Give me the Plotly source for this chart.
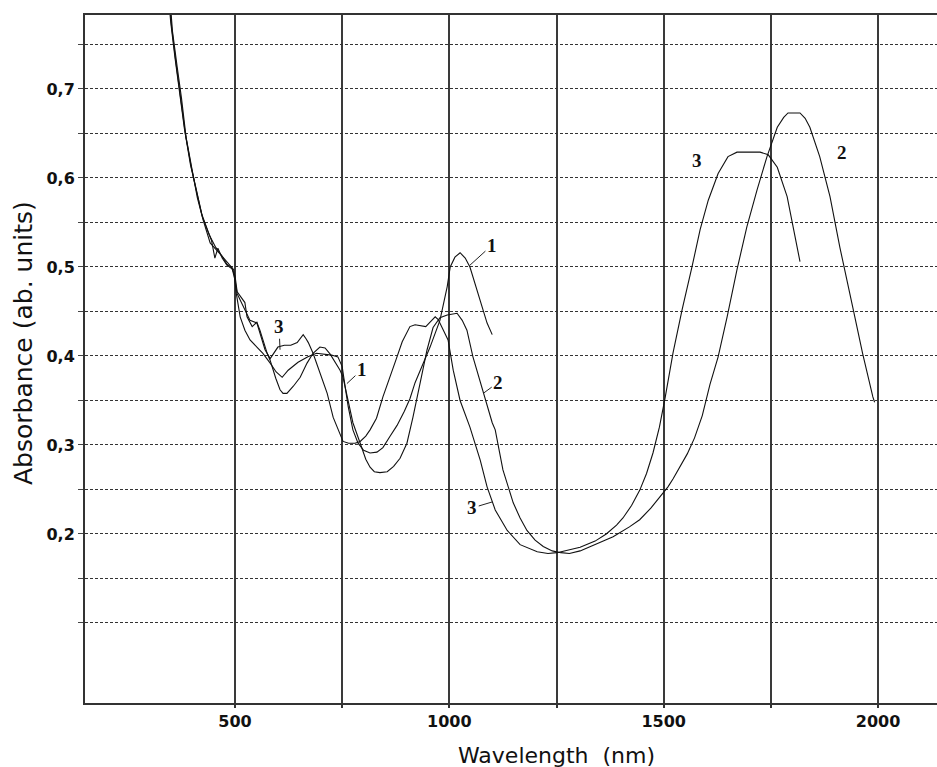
import plotly.graph_objects as go

# ---------------- data ----------------
wl1 = [340, 352, 362, 372, 384, 398, 410, 424, 440, 455, 470, 485, 497, 503, 512, 523, 535, 551, 565,
       582, 596, 610, 624, 647, 670, 690, 710, 725, 740, 750, 757, 764, 775, 787, 800, 815, 831, 845,
       862, 878, 895, 908, 920, 932, 955, 978, 995, 1002, 1013, 1025, 1037, 1048, 1065, 1088, 1100]
a1 = [0.84, 0.77, 0.73, 0.695, 0.65, 0.612, 0.585, 0.556, 0.536, 0.522, 0.512, 0.503, 0.497, 0.47,
      0.444, 0.429, 0.418, 0.41, 0.403, 0.392, 0.382, 0.376, 0.384, 0.393, 0.399, 0.403, 0.402, 0.401,
      0.399, 0.388, 0.365, 0.343, 0.317, 0.302, 0.294, 0.291, 0.292, 0.297, 0.31, 0.322, 0.338, 0.352,
      0.37, 0.383, 0.41, 0.44, 0.478, 0.5, 0.511, 0.516, 0.51, 0.5, 0.474, 0.437, 0.424]

wl2 = [338, 350, 360, 370, 382, 396, 408, 422, 437, 445, 453, 460, 470, 481, 493, 500, 505, 516, 523,
       528, 540, 551, 558, 575, 582, 595, 605, 612, 621, 636, 652, 668, 682, 698, 710, 722, 733, 745,
       752, 764, 775, 792, 805, 815, 825, 838, 855, 870, 885, 901, 915, 932, 948, 962, 978, 995, 1008,
       1018, 1030, 1041, 1055, 1072, 1088, 1100, 1107, 1125, 1149, 1165, 1181, 1200, 1219, 1240, 1260,
       1280, 1305, 1340, 1382, 1420, 1444, 1470, 1492, 1510, 1522, 1538, 1555, 1572, 1590, 1608, 1627,
       1648, 1671, 1694, 1718, 1741, 1765, 1780, 1790, 1818, 1830, 1841, 1864, 1888, 1911, 1941, 1964,
       1988, 1992]
a2 = [0.84, 0.775, 0.735, 0.70, 0.655, 0.615, 0.588, 0.56, 0.54, 0.53, 0.51, 0.521, 0.51, 0.502,
      0.498, 0.49, 0.472, 0.465, 0.46, 0.444, 0.433, 0.438, 0.429, 0.403, 0.395, 0.375, 0.362, 0.358,
      0.358, 0.366, 0.376, 0.392, 0.403, 0.41, 0.409, 0.402, 0.393, 0.384, 0.376, 0.351, 0.325, 0.302,
      0.284, 0.275, 0.27, 0.269, 0.27, 0.276, 0.285, 0.302, 0.331, 0.37, 0.407, 0.432, 0.443, 0.446,
      0.447, 0.448, 0.44, 0.429, 0.399, 0.37, 0.343, 0.325, 0.317, 0.272, 0.235, 0.218, 0.204, 0.193,
      0.186, 0.181, 0.179, 0.178, 0.181, 0.188, 0.197, 0.208, 0.216, 0.229, 0.242, 0.253, 0.262, 0.275,
      0.29, 0.308, 0.333, 0.368, 0.399, 0.444, 0.497, 0.545, 0.587, 0.624, 0.657, 0.668, 0.673, 0.673,
      0.667, 0.657, 0.624, 0.579, 0.522, 0.455, 0.403, 0.354, 0.348]

wl3 = [342, 354, 365, 375, 386, 400, 412, 426, 442, 457, 470, 481, 493, 500, 505, 512, 520, 535, 551,
       563, 570, 582, 592, 600, 615, 630, 645, 652, 659, 666, 671, 682, 698, 715, 729, 741, 752, 765,
       780, 792, 805, 815, 830, 845, 862, 875, 890, 908, 920, 935, 945, 955, 967, 974, 985, 997, 1009,
       1025, 1048, 1072, 1088, 1107, 1135, 1165, 1205, 1230, 1251, 1280, 1305, 1340, 1366, 1390, 1405,
       1425, 1444, 1460, 1475, 1490, 1503, 1522, 1543, 1566, 1585, 1604, 1627, 1650, 1671, 1700, 1725,
       1744, 1765, 1788, 1802, 1818]
a3 = [0.84, 0.765, 0.725, 0.69, 0.645, 0.607, 0.578, 0.552, 0.527, 0.519, 0.512, 0.503, 0.499, 0.485,
      0.47, 0.463, 0.455, 0.44, 0.437, 0.418, 0.407, 0.397, 0.404, 0.41, 0.412, 0.412, 0.415, 0.42,
      0.424, 0.419, 0.415, 0.403, 0.381, 0.358, 0.331, 0.317, 0.304, 0.302, 0.302, 0.304, 0.31, 0.317,
      0.33, 0.354, 0.376, 0.395, 0.416, 0.433, 0.435, 0.434, 0.433, 0.438, 0.444, 0.441, 0.43, 0.418,
      0.384, 0.35, 0.32, 0.283, 0.253, 0.227, 0.204, 0.188, 0.18, 0.178, 0.179, 0.182, 0.185, 0.192,
      0.2, 0.21, 0.218, 0.232, 0.249, 0.268, 0.291, 0.32, 0.352, 0.404, 0.452, 0.5, 0.542, 0.575,
      0.605, 0.624, 0.629, 0.629, 0.629, 0.626, 0.612, 0.579, 0.545, 0.506]

x_tickvals = [500, 750, 1000, 1250, 1500, 1750, 2000]
x_ticktext = ["500", "", "1000", "", "1500", "", "2000"]
y_tickvals = [0.10, 0.15, 0.20, 0.25, 0.30, 0.35, 0.40, 0.45, 0.50, 0.55, 0.60, 0.65, 0.70, 0.75]
y_ticktext = ["", "", "0,2", "", "0,3", "", "0,4", "", "0,5", "", "0,6", "", "0,7", ""]

x_title = "Wavelength  (nm)"
y_title = "Absorbance (ab. units)"

# curve labels: (text, x, y, ax, ay, arrow)
labels = [
    ("1", 1048, 0.502, 22, -20, True),
    ("1", 761, 0.369, 15, -14, True),
    ("3", 605, 0.407, -1, -23, True),
    ("2", 1079, 0.358, 15, -11, True),
    ("3", 1100, 0.236, -20, 6, True),
    ("3", 1578, 0.620, 0, 0, False),
    ("2", 1916, 0.629, 0, 0, False),
]

# ---------------- figure ----------------
fig = go.Figure()
for wl, a in [(wl1, a1), (wl2, a2), (wl3, a3)]:
    fig.add_trace(go.Scatter(x=wl, y=a, mode="lines",
                             line=dict(color="#111111", width=1.1),
                             showlegend=False, hoverinfo="skip"))

for txt, x, y, ax, ay, arrow in labels:
    fig.add_annotation(x=x, y=y, xref="x", yref="y", text=txt,
                       showarrow=arrow, ax=ax, ay=ay, arrowhead=0, arrowwidth=1,
                       arrowcolor="#222222", standoff=0,
                       font=dict(family="Liberation Serif", size=19, color="#111111", weight="bold"))

fig.add_annotation(x=0.553, y=-0.077, xref="paper", yref="paper", text=x_title, showarrow=False,
                   xanchor="center", yanchor="middle",
                   font=dict(family="DejaVu Sans", size=22, color="#111111"))
fig.add_annotation(x=-0.073, y=0.523, xref="paper", yref="paper", text=y_title, showarrow=False,
                   textangle=-90, xanchor="center", yanchor="middle",
                   font=dict(family="DejaVu Sans", size=25, color="#111111"))

fig.update_layout(
    width=937, height=767,
    margin=dict(l=85, r=0, t=15, b=64),
    paper_bgcolor="white", plot_bgcolor="white",
    xaxis=dict(range=[150, 2137.6], tickmode="array", tickvals=x_tickvals, ticktext=x_ticktext,
               showgrid=True, gridcolor="#3a3a3a", gridwidth=1.6,
               showline=True, linecolor="#333333", linewidth=2, mirror=True,
               ticks="outside", ticklen=3, tickcolor="#333333", tickwidth=1.6,
               zeroline=False,
               tickfont=dict(family="DejaVu Sans", size=16, color="#111111", weight="bold")),
    yaxis=dict(range=[0.0101, 0.7831], tickmode="array", tickvals=y_tickvals, ticktext=y_ticktext,
               showgrid=True, gridcolor="#333333", gridwidth=1, griddash="3px,2px",
               showline=True, linecolor="#333333", linewidth=2, mirror=False,
               ticks="outside", ticklen=5, tickcolor="#444444", tickwidth=1,
               zeroline=False,
               tickfont=dict(family="DejaVu Sans", size=16, color="#111111", weight="bold")),
)

fig.write_html("out.html", config={"displayModeBar": False},
               post_script="document.body.style.margin='0';document.body.style.overflow='hidden';")
